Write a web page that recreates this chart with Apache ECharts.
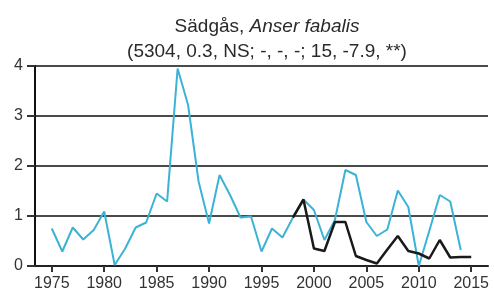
<!DOCTYPE html>
<html>
<head>
<meta charset="utf-8">
<script src="https://cdn.jsdelivr.net/npm/echarts@6/dist/echarts.min.js"></script>
<style>
  html, body { margin: 0; padding: 0; background: #fff; }
  #chart { width: 494px; height: 302px; }
</style>
</head>
<body>
<div id="chart"></div>
<script>
// all years, 1975-2014 (blue) and 1998-2015 (black)
const yearsAll = [1975, 1976, 1977, 1978, 1979, 1980, 1981, 1982, 1983, 1984,
  1985, 1986, 1987, 1988, 1989, 1990, 1991, 1992, 1993, 1994,
  1995, 1996, 1997, 1998, 1999, 2000, 2001, 2002, 2003, 2004,
  2005, 2006, 2007, 2008, 2009, 2010, 2011, 2012, 2013, 2014]
const indexAll = [0.75, 0.29, 0.77, 0.53, 0.72, 1.09, 0.02, 0.35, 0.77, 0.87,
  1.45, 1.29, 3.95, 3.22, 1.69, 0.85, 1.82, 1.42, 0.97, 0.99,
  0.29, 0.75, 0.57, 0.97, 1.33, 1.12, 0.52, 0.92, 1.92, 1.82,
  0.88, 0.60, 0.73, 1.51, 1.18, 0.00, 0.70, 1.42, 1.29, 0.32]

const yearsNew = [1998, 1999, 2000, 2001, 2002, 2003, 2004, 2005, 2006,
  2007, 2008, 2009, 2010, 2011, 2012, 2013, 2014, 2015]
const indexNew = [0.97, 1.33, 0.35, 0.30, 0.88, 0.88, 0.20, 0.12, 0.05,
  0.33, 0.60, 0.30, 0.25, 0.15, 0.52, 0.17, 0.18, 0.18]

const xTicks = [1975, 1980, 1985, 1990, 1995, 2000, 2005, 2010, 2015]
const yTicks = [0, 1, 2, 3, 4]

const chart = echarts.init(document.getElementById('chart'))
const textColor = '#333'

chart.setOption({
  animation: false,
  title: {
    text: '{a|Sädgås, }{b|Anser fabalis}\n{a|(5304, 0.3, NS; -, -, -; 15, -7.9, **)}',
    left: 262,
    top: 9,
    textAlign: 'center',
    textStyle: {
      fontWeight: 'normal',
      rich: {
        a: { fontFamily: 'Liberation Sans', fontSize: 19, fontWeight: 'normal', color: '#2a2a2a', lineHeight: 25 },
        b: { fontFamily: 'Liberation Sans', fontSize: 19, fontWeight: 'normal', fontStyle: 'italic', color: '#2a2a2a', lineHeight: 25 }
      }
    }
  },
  grid: { left: 35, right: 6, top: 66, bottom: 36 },
  xAxis: {
    type: 'value',
    min: 1973.4,
    max: 2016.6,
    axisLine: { show: true, lineStyle: { color: '#222', width: 2 } },
    axisTick: { show: true, customValues: xTicks, length: 6, lineStyle: { color: '#333', width: 2 } },
    axisLabel: {
      customValues: xTicks,
      formatter: v => String(v),
      margin: 10,
      fontFamily: 'Liberation Sans',
      fontSize: 16,
      color: textColor
    },
    splitLine: { show: false }
  },
  yAxis: {
    type: 'value',
    min: yTicks[0],
    max: yTicks[yTicks.length - 1],
    interval: 1,
    axisLine: { show: true, lineStyle: { color: '#111', width: 2 } },
    axisTick: { show: true, length: 8, lineStyle: { color: '#333', width: 2 } },
    axisLabel: {
      margin: 12,
      fontFamily: 'Liberation Sans',
      fontSize: 16,
      color: textColor
    },
    splitLine: { lineStyle: { color: '#4a4a4a', width: 2 } }
  },
  series: [
    {
      type: 'line',
      data: yearsAll.map((y, i) => [y, indexAll[i]]),
      symbol: 'none',
      lineStyle: { color: '#3bb3d6', width: 2 },
      z: 2
    },
    {
      type: 'line',
      data: yearsNew.map((y, i) => [y, indexNew[i]]),
      symbol: 'none',
      lineStyle: { color: '#1a1a1a', width: 2.5 },
      z: 3
    }
  ]
})
</script>
</body>
</html>
